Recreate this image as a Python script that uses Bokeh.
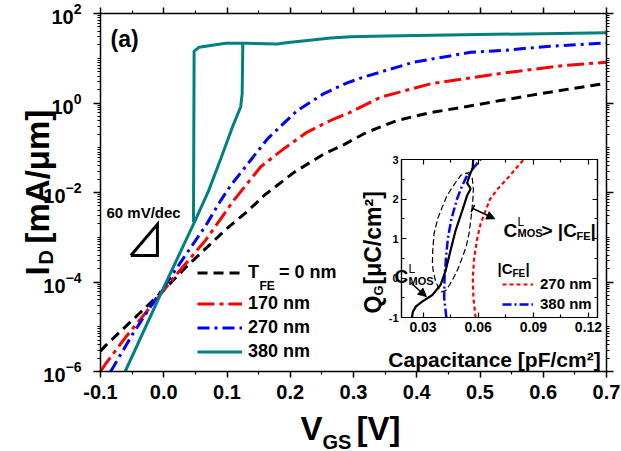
import math
from bokeh.plotting import figure
from bokeh.models import (Range1d, FixedTicker, LinearAxis, LogAxis, PrintfTickFormatter, LinearScale,
                          Label, Legend, LegendItem, Arrow, NormalHead, TeeHead)
from bokeh.embed import file_html
from bokeh.resources import INLINE

FONT = "Liberation Sans"
W, H = 621, 451

# ---------------- main panel data: I_D [mA/um] vs V_GS [V] ----------------
v_0nm = [-0.10, -0.092, -0.039, 0.0, 0.035, 0.077, 0.10, 0.13, 0.16, 0.206, 0.253, 0.285,
         0.32, 0.369, 0.42, 0.474, 0.53, 0.58, 0.64, 0.70]
i_0nm = [2.82e-6, 3.80e-6, 1.95e-5, 6.6e-5, 2.14e-4, 7.76e-4, 1.58e-3, 3.55e-3, 8.9e-3, 0.0282,
         0.0724, 0.1175, 0.219, 0.407, 0.603, 0.813, 1.12, 1.48, 2.04, 2.75]

v_170nm = [-0.10, -0.092, -0.06, -0.0126, 0.019, 0.066, 0.111, 0.153, 0.19, 0.227, 0.264, 0.293,
           0.343, 0.422, 0.527, 0.633, 0.70]
i_170nm = [1.0e-6, 1.48e-6, 5.89e-6, 3.89e-5, 1.41e-4, 8.51e-4, 6.76e-3, 0.0372, 0.0955, 0.224,
           0.407, 0.603, 1.35, 2.69, 4.47, 6.92, 8.13]

v_270nm = [-0.084, -0.0785, -0.049, -0.018, 0.0, 0.032, 0.066, 0.09, 0.106, 0.137, 0.164, 0.211,
           0.253, 0.29, 0.316, 0.395, 0.485, 0.538, 0.606, 0.70]
i_270nm = [1.0e-6, 1.35e-6, 6.92e-6, 3.24e-5, 7.59e-5, 3.55e-4, 1.78e-3, 6.61e-3, 0.01445, 0.0519,
           0.158, 0.676, 1.62, 2.82, 3.80, 8.13, 13.6, 15.0, 18.4, 22.1]

v_380nm_fwd = [-0.061, 0.0, 0.05, 0.071, 0.09, 0.1085, 0.1216, 0.124, 0.125, 0.13, 0.18,
               0.19, 0.264, 0.295, 0.35, 0.474, 0.60, 0.70]
i_380nm_fwd = [1.0e-6, 7.59e-5, 2.40e-3, 0.011, 0.0562, 0.288, 0.813, 1.62, 21.7, 21.7,
               20.9, 21.9, 28.5, 30.2, 31.6, 33.4, 35.5, 37.1]
v_380nm_rev = [0.125, 0.098, 0.056, 0.048, 0.047]
i_380nm_rev = [21.7, 21.7, 17.7, 14.4, 2.2e-3]

# 60 mV/dec slope triangle
tri_v = [-0.052, -0.010, -0.010, -0.052]
tri_i = [3.9e-4, 3.9e-4, 1.95e-3, 3.9e-4]

main_x_range = (-0.1, 0.7)
main_y_range = (1e-6, 1e2)
x_ticks = [-0.1, 0.0, 0.1, 0.2, 0.3, 0.4, 0.5, 0.6, 0.7]
x_minor = [-0.05, 0.05, 0.15, 0.25, 0.35, 0.45, 0.55, 0.65]
y_ticks = [1e-6, 1e-4, 1e-2, 1e0, 1e2]
y_minor = [k * 10.0 ** e for e in range(-6, 2) for k in range(2, 11)]

# ---------------- inset data: Q_G [uC/cm2] vs capacitance [pF/cm2] ----------------
cfe270_c = [0.0586, 0.0574, 0.0571, 0.0578, 0.0595, 0.0613, 0.0640, 0.0665, 0.0705, 0.0755, 0.0848]
cfe270_q = [-1.0, -0.5, 0.0, 0.5, 1.0, 1.37, 1.7, 2.0, 2.25, 2.5, 3.0]

cfe380_c = [0.0427, 0.0415, 0.0417, 0.0425, 0.0435, 0.0455, 0.0485, 0.0510, 0.0540, 0.0613]
cfe380_q = [-1.0, -0.5, 0.0, 0.5, 1.0, 1.5, 2.0, 2.3, 2.6, 3.0]

cmos_c = [0.0240, 0.0245, 0.0262, 0.0295, 0.0351, 0.0396, 0.0423, 0.0450, 0.0477, 0.0514,
          0.0540, 0.0559, 0.0540, 0.0552, 0.0570, 0.0573]
cmos_q = [-1.0, -0.85, -0.72, -0.60, -0.43, -0.17, 0.19, 0.70, 1.20, 1.71, 2.09, 2.26, 2.40,
          2.58, 2.78, 3.0]

loop_c = [0.0387, 0.0370, 0.0356, 0.0351, 0.0353, 0.0360, 0.0380, 0.0405, 0.0430, 0.0460, 0.0505,
          0.0540, 0.0568, 0.0574, 0.0571, 0.0562, 0.0550, 0.0535, 0.0514, 0.0492, 0.0468, 0.0445,
          0.0423, 0.0400, 0.0387]
loop_q = [-0.28, -0.10, 0.15, 0.36, 0.70, 1.12, 1.50, 1.80, 2.08, 2.30, 2.60, 2.66, 2.52, 2.25,
          1.97, 1.55, 1.12, 0.80, 0.52, 0.25, 0.02, -0.17, -0.32, -0.35, -0.28]

inset_x_range = (0.0183, 0.1249)
inset_y_range = (-1.0, 3.0)
ix_ticks = [0.03, 0.06, 0.09, 0.12]
ix_minor = [0.045, 0.075, 0.105]
iy_ticks = [-1, 0, 1, 2, 3]
iy_minor = [-0.5, 0.5, 1.5, 2.5]

TEAL = "#008080"

# ---------------- layout: the frame is the whole canvas; axes sit at fixed locations ----------------
MAIN_L, MAIN_R, MAIN_T, MAIN_B = 100, 606, 13, 371     # main axes box on the canvas, px
INSET_L, INSET_R, INSET_T, INSET_B = 401, 597, 159, 317  # inset axes box on the canvas, px

kv = (MAIN_R - MAIN_L) / (main_x_range[1] - main_x_range[0])
x_rng = Range1d(main_x_range[0] - MAIN_L / kv, main_x_range[1] + (W - MAIN_R) / kv)
d0, d1 = math.log10(main_y_range[0]), math.log10(main_y_range[1])
kd = (MAIN_B - MAIN_T) / (d1 - d0)
y_rng = Range1d(10 ** (d0 - (H - MAIN_B) / kd), 10 ** (d1 + MAIN_T / kd))

kx = (INSET_R - INSET_L) / (inset_x_range[1] - inset_x_range[0])
ky = (INSET_B - INSET_T) / (inset_y_range[1] - inset_y_range[0])
ix_rng = Range1d(inset_x_range[0] - INSET_L / kx, inset_x_range[1] + (W - INSET_R) / kx)
iy_rng = Range1d(inset_y_range[0] - (H - INSET_B) / ky, inset_y_range[1] + INSET_T / ky)


def style_axis(ax, show_labels=True, size="20px", t_in=0, t_out=6, m_in=0, m_out=3, lw=1.5, standoff=8):
    ax.axis_line_width = lw
    ax.axis_line_color = "black"
    ax.major_tick_line_width = lw
    ax.minor_tick_line_width = 1.2
    ax.major_tick_in = t_in
    ax.major_tick_out = t_out
    ax.minor_tick_in = m_in
    ax.minor_tick_out = m_out
    ax.major_label_text_font = FONT
    ax.major_label_text_font_style = "bold"
    ax.major_label_text_color = "black"
    if show_labels:
        ax.major_label_text_font_size = size
        ax.major_label_standoff = standoff
    else:
        ax.major_label_text_font_size = "1px"
        ax.major_label_text_alpha = 0
        ax.major_label_standoff = 0


p = figure(width=W, height=H, output_backend="svg", toolbar_location=None,
           x_range=x_rng, y_range=y_rng, y_axis_type="log",
           x_axis_location=None, y_axis_location=None,
           min_border_left=0, min_border_right=0, min_border_top=0, min_border_bottom=0)
p.title.visible = False
p.grid.visible = False
p.outline_line_color = None
p.background_fill_color = "white"
p.border_fill_color = "white"
p.extra_x_ranges = {"ix": ix_rng}
p.extra_y_ranges = {"iy": iy_rng}
p.extra_x_scales = {"ix": LinearScale()}
p.extra_y_scales = {"iy": LinearScale()}

# ---- main axes (all four sides) ----
xt = FixedTicker(ticks=x_ticks, minor_ticks=x_minor)
yt = FixedTicker(ticks=y_ticks, minor_ticks=y_minor)
ax_b = LinearAxis(ticker=xt, formatter=PrintfTickFormatter(format="%.1f"),
                  fixed_location=main_y_range[0], bounds=main_x_range)
style_axis(ax_b, True, "20px", t_out=6, m_out=3, standoff=7)
p.add_layout(ax_b, "below")
ax_l = LogAxis(ticker=yt, fixed_location=main_x_range[0], bounds=main_y_range)
style_axis(ax_l, True, "20px", t_out=7, m_out=3, standoff=12)
p.add_layout(ax_l, "left")
ax_t = LinearAxis(ticker=xt, formatter=PrintfTickFormatter(format="%.1f"),
                  fixed_location=main_y_range[1], bounds=main_x_range)
style_axis(ax_t, False, t_out=6, m_out=3)
p.add_layout(ax_t, "above")
ax_r = LogAxis(ticker=yt, formatter=PrintfTickFormatter(format="%g"),
               fixed_location=main_x_range[1], bounds=main_y_range)
style_axis(ax_r, False, t_out=7, m_out=3)
p.add_layout(ax_r, "right")

# ---- main curves ----
r0 = p.line(v_0nm, i_0nm, color="black", line_width=3, line_dash="10 6")
r1 = p.line(v_170nm, i_170nm, color="#ff0000", line_width=3, line_dash="17 5 4 5")
r2 = p.line(v_270nm, i_270nm, color="#0000ff", line_width=3, line_dash="12 5 3 5")
r3 = p.line(v_380nm_fwd, i_380nm_fwd, color=TEAL, line_width=3)
p.line(v_380nm_rev, i_380nm_rev, color=TEAL, line_width=3)
p.line(tri_v, tri_i, color="black", line_width=3, line_join="miter")

leg_common = dict(label_text_font=FONT, label_text_font_style="bold", label_text_font_size="18px",
                  label_text_color="black", glyph_width=45, glyph_height=21, label_height=21,
                  label_standoff=6, spacing=3, padding=0, margin=0, border_line_alpha=0,
                  background_fill_alpha=0)
leg1 = Legend(items=[LegendItem(label="T\u00a0\u00a0\u00a0\u00a0= 0 nm", renderers=[r0])],
              location=(197, H - 282.5), **leg_common)
leg2 = Legend(items=[LegendItem(label="170 nm", renderers=[r1]),
                     LegendItem(label="270 nm", renderers=[r2]),
                     LegendItem(label="380 nm", renderers=[r3])],
              location=(197, H - 361.5), **leg_common)
p.add_layout(leg1)
p.add_layout(leg2)

# ---- inset ----
p.quad(left=[inset_x_range[0]], right=[inset_x_range[1]], bottom=[inset_y_range[0]],
       top=[inset_y_range[1]], fill_color="white", line_color="black", line_width=1.2,
       x_range_name="ix", y_range_name="iy")

ixt = FixedTicker(ticks=ix_ticks, minor_ticks=ix_minor)
iyt = FixedTicker(ticks=iy_ticks, minor_ticks=iy_minor)
ia_b = LinearAxis(ticker=ixt, formatter=PrintfTickFormatter(format="%.2f"), x_range_name="ix",
                  y_range_name="iy", fixed_location=inset_y_range[0], bounds=inset_x_range)
style_axis(ia_b, True, "14px", t_in=5, t_out=0, m_in=3, m_out=0, lw=1.2, standoff=4)
p.add_layout(ia_b, "below")
ia_l = LinearAxis(ticker=iyt, formatter=PrintfTickFormatter(format="%d"), x_range_name="ix",
                  y_range_name="iy", fixed_location=inset_x_range[0], bounds=inset_y_range)
style_axis(ia_l, True, "11px", t_in=5, t_out=0, m_in=3, m_out=0, lw=1.2, standoff=3)
p.add_layout(ia_l, "left")
ia_t = LinearAxis(ticker=ixt, formatter=PrintfTickFormatter(format="%.2f"), x_range_name="ix",
                  y_range_name="iy", fixed_location=inset_y_range[1], bounds=inset_x_range)
style_axis(ia_t, False, t_in=5, t_out=0, m_in=3, m_out=0, lw=1.2)
p.add_layout(ia_t, "above")
ia_r = LinearAxis(ticker=iyt, formatter=PrintfTickFormatter(format="%d"), x_range_name="ix",
                  y_range_name="iy", fixed_location=inset_x_range[1], bounds=inset_y_range)
style_axis(ia_r, False, t_in=5, t_out=0, m_in=3, m_out=0, lw=1.2)
p.add_layout(ia_r, "right")

ra = p.line(cfe270_c, cfe270_q, color="#ff0000", line_width=2.2, line_dash="4 3",
            x_range_name="ix", y_range_name="iy")
rb = p.line(cfe380_c, cfe380_q, color="#0000ff", line_width=2.5, line_dash="9 3 2 3",
            x_range_name="ix", y_range_name="iy")
p.line(loop_c, loop_q, color="black", line_width=1.2, line_dash="6 3",
       x_range_name="ix", y_range_name="iy")
p.line(cmos_c, cmos_q, color="black", line_width=2.2, x_range_name="ix", y_range_name="iy")

ileg = Legend(items=[LegendItem(label="270 nm", renderers=[ra]),
                     LegendItem(label="380 nm", renderers=[rb])],
              location=(502, H - 312), label_text_font=FONT, label_text_font_style="bold",
              label_text_font_size="15px", label_text_color="black", glyph_width=31,
              glyph_height=16, label_height=16, label_standoff=7, spacing=3, padding=0,
              margin=0, border_line_alpha=0, background_fill_alpha=0)
p.add_layout(ileg)

p.add_layout(Arrow(x_start=0.0571, y_start=1.76, x_end=0.0690, y_end=1.50, line_width=1.5,
                   line_color="black", start=TeeHead(size=8, line_width=1.5),
                   end=NormalHead(size=8, fill_color="black", line_color="black"),
                   x_range_name="ix", y_range_name="iy"))
p.add_layout(Arrow(x_start=0.0233, y_start=-0.12, x_end=0.0318, y_end=-0.47, line_width=1.5,
                   line_color="black",
                   end=NormalHead(size=8, fill_color="black", line_color="black"),
                   x_range_name="ix", y_range_name="iy"))


def lab(px, py, text, size, angle=0.0, style="bold", align="left"):
    """Free text on the canvas; px, py measured from the canvas top-left."""
    p.add_layout(Label(x=px, y=H - py, x_units="screen", y_units="screen", text=text,
                       text_font=FONT, text_font_size=size, text_font_style=style,
                       text_color="black", angle=angle, text_align=align,
                       text_baseline="alphabetic"))


half_pi = math.pi / 2
# main panel texts
lab(110, 38, "(a)", "23px")
lab(106, 212, "60 mV/dec", "15px")
lab(259, 285, "FE", "12px")
lab(37, 275, "I", "33px", angle=half_pi)
lab(45, 264, "D", "20px", angle=half_pi)
lab(37, 243, "[mA/\u03bcm]", "33px", angle=half_pi)
lab(300, 428, "V", "33px")
lab(322, 441, "GS", "20px")
lab(356, 428, "[V]", "33px")

# inset texts
lab(497, 268, "|C", "15px")
lab(512, 273, "FE", "10px")
lab(525, 268, "|", "15px")

lab(503, 230, "C", "19px")
lab(517, 221, "L", "12px", style="normal")
lab(517, 232, "MOS", "11px")
lab(541, 230, "> |C", "19px")
lab(576, 235, "FE", "11px")
lab(590, 230, "|", "19px")

lab(394, 276, "C", "19px")
lab(408, 268, "L", "12px", style="normal")
lab(408, 280, "MOS", "11px")

lab(372, 313, "Q", "23px", angle=half_pi)
lab(378, 295, "G", "13px", angle=half_pi)
lab(372, 284, "[\u03bcC/cm\u00b2]", "23px", angle=half_pi)
lab(494, 359, "Capacitance [pF/cm\u00b2]", "21px", align="center")

with open("out.html", "w") as f:
    f.write(file_html(p, INLINE))
